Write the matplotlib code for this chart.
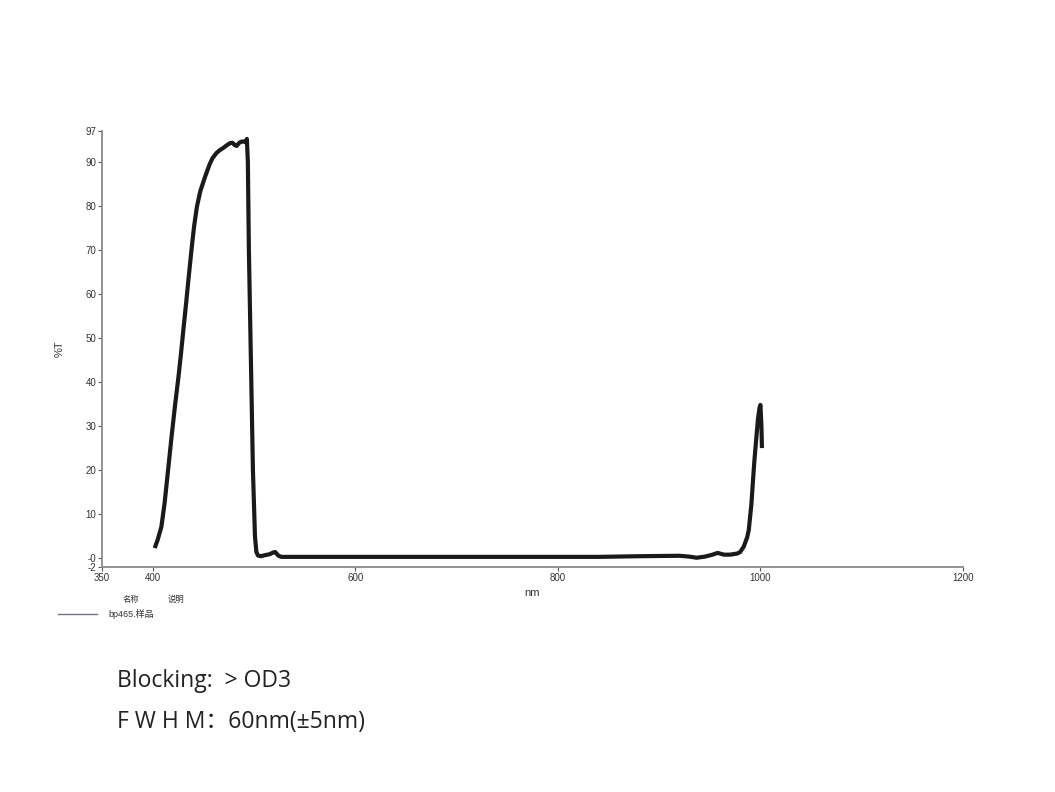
import matplotlib
matplotlib.use("Agg")
import matplotlib.pyplot as plt
from matplotlib.lines import Line2D

plt.rcParams['font.family'] = ['Liberation Sans', 'Noto Sans CJK SC', 'DejaVu Sans']

# Transmission spectrum (wavelength nm, %T)
wavelength = [402, 405, 408.6, 411.8, 415, 418.4, 422, 425.4, 428, 430.3, 433, 435.3,
              437, 438.7, 441, 443.7, 447, 451.6, 456, 459, 463, 466, 470, 474, 477,
              479, 481, 483, 485, 486, 488, 491, 492, 493, 494, 495, 497, 499, 501,
              502.4, 504, 507, 511, 515.5, 519, 521, 524, 527, 535, 600, 700, 800,
              841, 880, 920, 930, 937, 945, 952, 957.8, 964, 970, 977, 980, 983.5,
              987, 988.5, 991, 994, 997.5, 999, 1000, 1001, 1001.5]
transmission = [2.3, 4.2, 7.1, 12.5, 19.5, 27.0, 34.5, 41.0, 46.5, 51.8, 57.8, 63.2,
                67, 70.8, 75.5, 79.8, 83.3, 86.5, 89.3, 90.8, 92.0, 92.6, 93.2, 93.9, 94.3,
                94.3, 93.8, 93.6, 94.2, 94.4, 94.6, 94.6, 94.4, 95.2, 90, 70, 45, 20, 5,
                1.4, 0.6, 0.45, 0.7, 0.9, 1.3, 1.4, 0.6, 0.3, 0.3, 0.3, 0.3, 0.3,
                0.3, 0.45, 0.55, 0.35, 0.1, 0.35, 0.75, 1.2, 0.8, 0.8, 1.05, 1.4, 2.6,
                4.8, 6.4, 12, 22, 31.4, 34, 34.8, 30, 25.0]

y_ticks = [-2, 0, 10, 20, 30, 40, 50, 60, 70, 80, 90, 97]
y_tick_labels = ['-2', '-0', '10', '20', '30', '40', '50', '60', '70', '80', '90', '97']
x_ticks = [350, 400, 600, 800, 1000, 1200]
x_tick_labels = ['350', '400', '600', '800', '1000', '1200']

legend_header = ['名称', '说明']
series_name = 'bp465.样品'
notes = ['Blocking:  > OD3', 'F W H M：60nm(±5nm)']

W, H = 1055, 792
fig = plt.figure(figsize=(W / 100, H / 100), dpi=100)
ax = fig.add_axes([102 / W, 1 - 567 / H, (963 - 102) / W, (567 - 131) / H])

ax.plot(wavelength, transmission, color='#1a1a1a', linewidth=3.0,
        solid_joinstyle='round', solid_capstyle='butt')

ax.set_xlim(350, 1200)
ax.set_ylim(-2, 97)
ax.set_xticks(x_ticks)
ax.set_xticklabels(x_tick_labels)
ax.set_yticks(y_ticks)
ax.set_yticklabels(y_tick_labels)

for s in ['top', 'right']:
    ax.spines[s].set_visible(False)
for s in ['left', 'bottom']:
    ax.spines[s].set_color('#8a8a8a')
    ax.spines[s].set_linewidth(1.3)

ax.tick_params(axis='both', direction='out', length=3, width=0.8, color='#555555',
               labelsize=7, labelcolor='#333333', pad=1.0)

ax.set_xlabel('nm', fontsize=8, color='#333333', labelpad=0)
ax.set_ylabel('%T', fontsize=8, color='#333333')
ax.yaxis.set_label_coords((65 - 102) / (963 - 102), 0.5)
ax.xaxis.set_label_coords(0.5, -(588 - 567) / (567 - 131))

# Legend area below the plot
fig.text(123 / W, 1 - 600 / H, legend_header[0], fontsize=6, color='#333333', va='center')
fig.text(168 / W, 1 - 600 / H, legend_header[1], fontsize=6, color='#333333', va='center')
fig.add_artist(Line2D([58 / W, 97 / W], [1 - 614 / H, 1 - 614 / H], color='#70708f', linewidth=1.0))
fig.text(108 / W, 1 - 614 / H, series_name, fontsize=6.5, color='#333333', va='center')

# Notes
note_font = ['Open Sans', 'Noto Sans CJK SC']
fig.text(117 / W, 1 - 681 / H, notes[0], fontsize=16.5, color='#222222', va='center', family=note_font)
fig.text(117 / W, 1 - 722 / H, notes[1], fontsize=16.5, color='#222222', va='center', family=note_font)

fig.savefig('out.png', dpi=100)
